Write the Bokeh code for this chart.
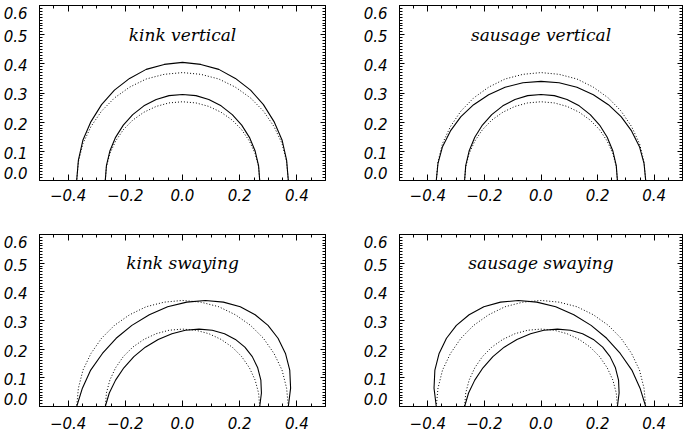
from bokeh.plotting import figure
from bokeh.models import Range1d, LinearAxis, FixedTicker, CustomJSTickFormatter
from bokeh.layouts import gridplot
from bokeh.embed import file_html
from bokeh.resources import INLINE
from bokeh.core.properties import value

# ---------------- data ----------------
titles = ["kink vertical", "sausage vertical", "kink swaying", "sausage swaying"]

x_ticks = [-0.4, -0.2, 0.0, 0.2, 0.4]
x_minor = [-0.5, -0.45, -0.4, -0.35, -0.3, -0.25, -0.2, -0.15, -0.1, -0.05, 0.0,
           0.05, 0.1, 0.15, 0.2, 0.25, 0.3, 0.35, 0.4, 0.45, 0.5]
y_ticks = [0.0, 0.1, 0.2, 0.3, 0.4, 0.5, 0.6]

# equilibrium loop boundaries (dotted)
x_eq_outer = [0.370, 0.364, 0.348, 0.320, 0.283, 0.238, 0.185, 0.127, 0.064, 0.000,
              -0.064, -0.127, -0.185, -0.238, -0.283, -0.320, -0.348, -0.364, -0.370]
y_eq_outer = [0.000, 0.064, 0.127, 0.185, 0.238, 0.283, 0.320, 0.348, 0.364, 0.370,
              0.364, 0.348, 0.320, 0.283, 0.238, 0.185, 0.127, 0.064, 0.000]
x_eq_inner = [0.270, 0.266, 0.254, 0.234, 0.207, 0.174, 0.135, 0.092, 0.047, 0.000,
              -0.047, -0.092, -0.135, -0.174, -0.207, -0.234, -0.254, -0.266, -0.270]
y_eq_inner = [0.000, 0.047, 0.092, 0.135, 0.174, 0.207, 0.234, 0.254, 0.266, 0.270,
              0.266, 0.254, 0.234, 0.207, 0.174, 0.135, 0.092, 0.047, 0.000]

# kink vertical (solid)
kv_outer_x = [0.370, 0.364, 0.348, 0.320, 0.283, 0.238, 0.185, 0.127, 0.064, 0.000,
              -0.064, -0.127, -0.185, -0.238, -0.283, -0.320, -0.348, -0.364, -0.370]
kv_outer_y = [0.000, 0.070, 0.139, 0.202, 0.260, 0.310, 0.350, 0.381, 0.398, 0.405,
              0.398, 0.381, 0.350, 0.310, 0.260, 0.202, 0.139, 0.070, 0.000]
kv_inner_x = [0.270, 0.266, 0.254, 0.234, 0.207, 0.174, 0.135, 0.092, 0.047, 0.000,
              -0.047, -0.092, -0.135, -0.174, -0.207, -0.234, -0.254, -0.266, -0.270]
kv_inner_y = [0.000, 0.051, 0.101, 0.148, 0.190, 0.226, 0.256, 0.278, 0.291, 0.295,
              0.291, 0.278, 0.256, 0.226, 0.190, 0.148, 0.101, 0.051, 0.000]

# sausage vertical (solid)
sv_outer_x = [0.370, 0.364, 0.348, 0.320, 0.283, 0.238, 0.185, 0.127, 0.064, 0.000,
              -0.064, -0.127, -0.185, -0.238, -0.283, -0.320, -0.348, -0.364, -0.370]
sv_outer_y = [0.000, 0.059, 0.116, 0.170, 0.219, 0.260, 0.294, 0.320, 0.335, 0.340,
              0.335, 0.320, 0.294, 0.260, 0.219, 0.170, 0.116, 0.059, 0.000]
sv_inner_x = [0.270, 0.266, 0.254, 0.234, 0.207, 0.174, 0.135, 0.092, 0.047, 0.000,
              -0.047, -0.092, -0.135, -0.174, -0.207, -0.234, -0.254, -0.266, -0.270]
sv_inner_y = [0.000, 0.051, 0.101, 0.148, 0.190, 0.226, 0.256, 0.278, 0.291, 0.295,
              0.291, 0.278, 0.256, 0.226, 0.190, 0.148, 0.101, 0.051, 0.000]

# kink swaying (solid)
ks_outer_x = [0.370, 0.378, 0.375, 0.360, 0.334, 0.299, 0.254, 0.202, 0.143, 0.080,
              0.015, -0.052, -0.116, -0.177, -0.232, -0.280, -0.321, -0.350, -0.370]
ks_outer_y = [0.000, 0.064, 0.127, 0.185, 0.238, 0.283, 0.320, 0.348, 0.364, 0.370,
              0.364, 0.348, 0.320, 0.283, 0.238, 0.185, 0.127, 0.064, 0.000]
ks_inner_x = [0.270, 0.276, 0.274, 0.263, 0.244, 0.218, 0.185, 0.147, 0.104, 0.058,
              0.010, -0.037, -0.085, -0.130, -0.170, -0.205, -0.234, -0.256, -0.270]
ks_inner_y = [0.000, 0.047, 0.092, 0.135, 0.174, 0.207, 0.234, 0.254, 0.266, 0.270,
              0.266, 0.254, 0.234, 0.207, 0.174, 0.135, 0.092, 0.047, 0.000]

# sausage swaying (solid)
ss_outer_x = [0.370, 0.350, 0.321, 0.280, 0.232, 0.177, 0.116, 0.052, -0.015, -0.080,
              -0.143, -0.202, -0.254, -0.299, -0.334, -0.360, -0.375, -0.378, -0.370]
ss_outer_y = [0.000, 0.064, 0.127, 0.185, 0.238, 0.283, 0.320, 0.348, 0.364, 0.370,
              0.364, 0.348, 0.320, 0.283, 0.238, 0.185, 0.127, 0.064, 0.000]
ss_inner_x = [0.270, 0.276, 0.274, 0.263, 0.244, 0.218, 0.185, 0.147, 0.104, 0.058,
              0.010, -0.037, -0.085, -0.130, -0.170, -0.205, -0.234, -0.256, -0.270]
ss_inner_y = [0.000, 0.047, 0.092, 0.135, 0.174, 0.207, 0.234, 0.254, 0.266, 0.270,
              0.266, 0.254, 0.234, 0.207, 0.174, 0.135, 0.092, 0.047, 0.000]

solid_curves = [
    (kv_outer_x, kv_outer_y, kv_inner_x, kv_inner_y),
    (sv_outer_x, sv_outer_y, sv_inner_x, sv_inner_y),
    (ks_outer_x, ks_outer_y, ks_inner_x, ks_inner_y),
    (ss_outer_x, ss_outer_y, ss_inner_x, ss_inner_y),
]

# ---------------- styling / layout ----------------
TICK_FONT = "DejaVu Sans"
TICK_SIZE = "15px"
TITLE_FONT = "DejaVu Serif"
TITLE_SIZE = "17px"

y_label_pos = [0.025, 0.095, 0.195, 0.295, 0.395, 0.495, 0.575]
y_minor = [round(i * 0.01, 2) for i in range(61)]

x_fmt = CustomJSTickFormatter(code="""
    const v = Math.round(tick * 10) / 10;
    return (v < 0 ? "\u2212" : "") + Math.abs(v).toFixed(1);
""")


def y_fmt():
    return CustomJSTickFormatter(code="return (Math.round(tick * 10) / 10).toFixed(1);")


def ticks_only(axis, major_in, minor_in):
    axis.major_tick_in = major_in
    axis.major_tick_out = 0
    axis.minor_tick_in = minor_in
    axis.minor_tick_out = 0
    axis.major_tick_line_color = "black"
    axis.minor_tick_line_color = "black"
    axis.axis_line_color = None
    axis.major_label_text_color = None
    axis.major_label_text_font_size = "0px"
    axis.major_label_standoff = 0


def make_panel(i, width, height, bl, br, bt, bb, xstand):
    p = figure(width=width, height=height, output_backend="svg", toolbar_location=None,
               x_range=Range1d(-0.5, 0.5), y_range=Range1d(0.0, 0.6),
               min_border_left=bl, min_border_right=br,
               min_border_top=bt, min_border_bottom=bb,
               tools="")
    p.background_fill_color = "white"
    p.border_fill_color = "white"
    p.outline_line_color = "black"
    p.outline_line_width = 1
    p.grid.visible = False

    # bottom axis: ticks + labels
    xa = p.xaxis[0]
    xa.ticker = FixedTicker(ticks=x_ticks, minor_ticks=x_minor)
    xa.formatter = x_fmt
    xa.major_tick_in = 6
    xa.major_tick_out = 0
    xa.minor_tick_in = 3
    xa.minor_tick_out = 0
    xa.axis_line_color = None
    xa.major_label_text_font = TICK_FONT
    xa.major_label_text_font_style = "italic"
    xa.major_label_text_font_size = TICK_SIZE
    xa.major_label_text_color = "black"
    xa.major_label_standoff = xstand

    # left axis: ticks only
    ya = p.yaxis[0]
    ya.ticker = FixedTicker(ticks=y_ticks, minor_ticks=y_minor)
    ticks_only(ya, 5, 3)

    # left axis: labels only (end labels pulled inside)
    yl = LinearAxis(ticker=FixedTicker(ticks=y_label_pos, minor_ticks=[]),
                    formatter=y_fmt())
    yl.major_tick_line_color = None
    yl.minor_tick_line_color = None
    yl.axis_line_color = None
    yl.major_label_text_font = TICK_FONT
    yl.major_label_text_font_style = "italic"
    yl.major_label_text_font_size = TICK_SIZE
    yl.major_label_text_color = "black"
    yl.major_label_standoff = 6
    p.add_layout(yl, "left")

    # right axis: ticks only
    yr = LinearAxis(ticker=FixedTicker(ticks=y_ticks, minor_ticks=y_minor))
    ticks_only(yr, 5, 3)
    p.add_layout(yr, "right")

    # top axis: ticks only
    xt = LinearAxis(ticker=FixedTicker(ticks=x_ticks, minor_ticks=x_minor))
    ticks_only(xt, 6, 3)
    p.add_layout(xt, "above")

    # equilibrium loops (dotted)
    p.line(x_eq_outer, y_eq_outer, line_color="black", line_width=1, line_dash="1 2")
    p.line(x_eq_inner, y_eq_inner, line_color="black", line_width=1, line_dash="1 2")

    # perturbed loops (solid)
    ox, oy, ix, iy = solid_curves[i]
    p.line(ox, oy, line_color="black", line_width=1.1)
    p.line(ix, iy, line_color="black", line_width=1.1)

    p.text(x=[0.0], y=[0.5], text=[titles[i]], text_font=value(TITLE_FONT),
           text_font_style="italic", text_font_size=TITLE_SIZE,
           text_align="center", text_baseline="alphabetic", text_color="black")
    return p


p1 = make_panel(0, 342, 220, 39, 17, 5, 40, 8)
p2 = make_panel(1, 342, 220, 57, 2, 5, 40, 8)
p3 = make_panel(2, 342, 219, 39, 17, 14, 33, 10)
p4 = make_panel(3, 342, 219, 57, 2, 14, 33, 10)

grid = gridplot([[p1, p2], [p3, p4]], toolbar_location=None)

open("out.html", "w").write(file_html(grid, INLINE))
